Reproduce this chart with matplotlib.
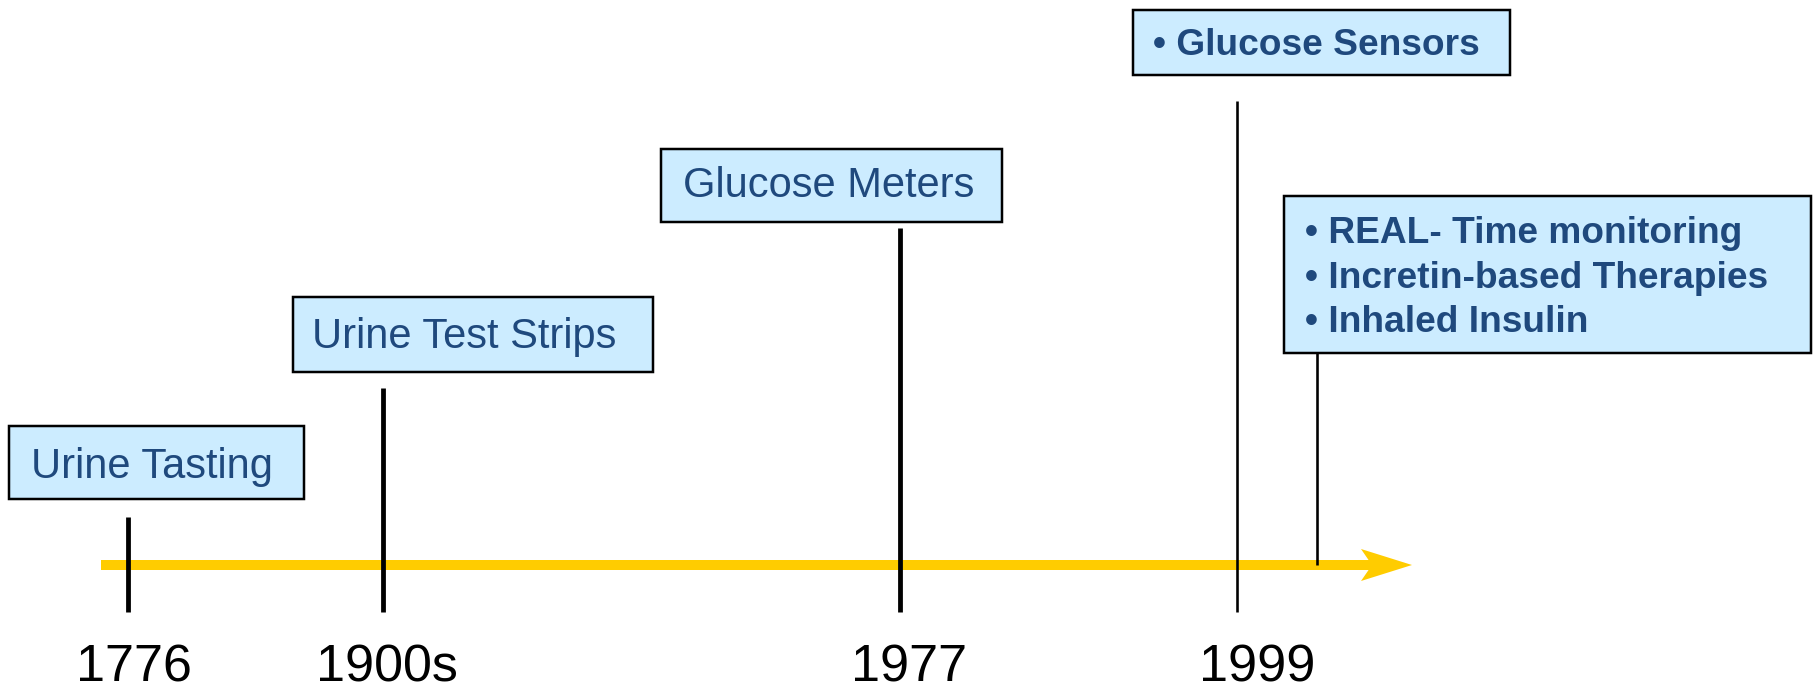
import matplotlib
matplotlib.use("Agg")
import matplotlib.pyplot as plt
from matplotlib.patches import Rectangle, Polygon

plt.rcParams['font.family'] = ['Liberation Sans', 'DejaVu Sans']

# ---- data ----
years = ['1776', '1900s', '1977', '1999']
year_label_x = [134, 387, 909, 1257]

marker_x = [128, 383, 900, 1237, 1317]
marker_top = [517, 388, 228, 101, 353]
marker_bottom = [612, 612, 612, 612, 565]
marker_px = [4.8, 4.8, 4.8, 2.6, 2.6]

box_lines = [
    ['Urine Tasting'],
    ['Urine Test Strips'],
    ['Glucose Meters'],
    ['• Glucose Sensors'],
    ['• REAL- Time monitoring', '• Incretin-based Therapies', '• Inhaled Insulin'],
]
box_bold = [False, False, False, True, True]
box_left = [9, 293, 661, 1133, 1284]
box_right = [304, 653, 1002, 1510, 1811]
box_top = [426, 297, 149, 10, 196]
box_bottom = [499, 372, 222, 75, 353]
text_left = [31, 312, 683, 1153, 1305]
text_baseline0 = [478, 348, 197, 55, 243]
line_step = 44.5

axis_start, axis_end, axis_y = 101, 1412, 565

W, H, DPI = 1813, 685, 100
PX = 72.0 / DPI

fig = plt.figure(figsize=(W / DPI, H / DPI), dpi=DPI)
ax = fig.add_axes([0, 0, 1, 1])
ax.set_xlim(0, W)
ax.set_ylim(H, 0)
ax.axis('off')

yellow = '#FFCC00'
fill = '#CCECFF'
txt = '#1F497D'

# timeline shaft
head_len, head_half, notch = 51, 16, 11
ax.plot([axis_start, axis_end - head_len + notch + 2], [axis_y, axis_y],
        color=yellow, lw=10 * PX, solid_capstyle='butt', zorder=1)
ax.add_patch(Polygon([[axis_end, axis_y],
                      [axis_end - head_len, axis_y - head_half],
                      [axis_end - head_len + notch, axis_y],
                      [axis_end - head_len, axis_y + head_half]],
                     closed=True, facecolor=yellow, edgecolor='none', zorder=1))

# markers
for x, t, b, w in zip(marker_x, marker_top, marker_bottom, marker_px):
    ax.plot([x, x], [t, b], color='black', lw=w * PX, solid_capstyle='butt', zorder=2)

# year labels
for lab, x in zip(years, year_label_x):
    ax.text(x, 681, lab, ha='center', va='baseline', fontsize=37.5, color='black')

# boxes
for lines, bold, l, r, t, b, tl, tb in zip(box_lines, box_bold, box_left, box_right,
                                           box_top, box_bottom, text_left, text_baseline0):
    ax.add_patch(Rectangle((l, t), r - l, b - t, facecolor=fill, edgecolor='black',
                           lw=2.5 * PX, zorder=3))
    for i, s in enumerate(lines):
        ax.text(tl, tb + i * line_step, s, ha='left', va='baseline',
                fontsize=26.7 if bold else 30,
                fontweight='bold' if bold else 'normal', color=txt, zorder=4)

fig.savefig('out.png', dpi=DPI)
